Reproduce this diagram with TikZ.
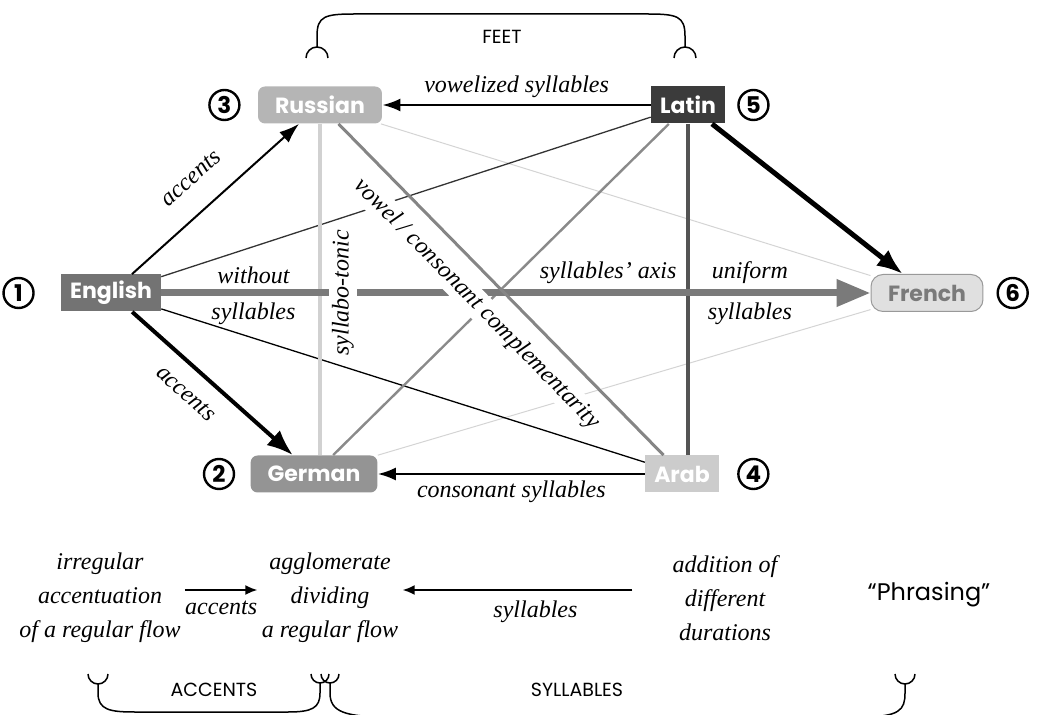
\documentclass[tikz,border=0pt]{standalone}
\usepackage{fontspec}
\setmainfont{Liberation Serif}
\setsansfont{Poppins}
\usetikzlibrary{arrows.meta, positioning}

\begin{document}
\begin{tikzpicture}[x=0.5pt,y=-0.5pt,
    lang/.style={font=\sffamily\bfseries\fontsize{11}{13}\selectfont,text=white,
                 minimum height=18.5pt,inner xsep=4.5pt,inner ysep=0pt},
    round lang/.style={lang,rounded corners=3.5pt,inner xsep=8.5pt},
    num/.style={circle,draw,line width=1.2pt,minimum size=15pt,inner sep=0pt,
                font=\sffamily\bfseries\fontsize{11.5}{13}\selectfont},
    lbl/.style={font=\itshape\fontsize{12}{14}\selectfont,text=black,inner sep=2pt},
    cut lbl/.style={lbl,fill=white,inner sep=1.5pt},
    para/.style={lbl,align=center,font=\itshape\fontsize{12}{17}\selectfont},
    caps/.style={font=\sffamily\fontsize{9.5}{11}\selectfont},
    brace/.style={line width=0.75pt},
    flow/.style={line width=1pt,-{Latex[length=6pt,width=5pt]}}]

  \useasboundingbox (0,0) rectangle (1043,715);

  \node[lang,fill=black!55] (English) at (111,293) {English};
  \node[round lang,fill=black!29] (Russian) at (320,105) {Russian};
  \node[lang,fill=black!77] (Latin) at (688,105) {Latin};
  \node[round lang,rounded corners=6pt,fill=black!12,draw=black!40,line width=0.5pt,
        text=black!52] (French) at (927,293) {French};
  \node[round lang,fill=black!42] (German) at (314,474) {German};
  \node[lang,fill=black!20] (Arab) at (682,474) {Arab};

  \node[num,left=13pt of English] (one) {1};
  \node[num,left=7.5pt of German] (two) {2};
  \node[num,left=8.5pt of Russian] (three) {3};
  \node[num,right=9pt of Arab] (four) {4};
  \node[num,right=6pt of Latin] (five) {5};
  \node[num,right=6.5pt of French] (six) {6};

  % plain links
  \draw[black!17,line width=0.5pt] (Russian) -- (French);
  \draw[black!17,line width=0.5pt] (German) -- (French);
  \draw[black!80,line width=0.65pt] (English) -- (Latin);
  \draw[line width=0.65pt] (English) -- (Arab);
  \draw[black!46,line width=1.2pt] (Latin) -- (German);
  \draw[black!67,line width=2pt] (Latin.south) -- (Latin.south |- Arab.north);
  \draw[black!18,line width=2pt] (Russian.south) -- (Russian.south |- German.north);

  \draw[black!52,line width=3.5pt,-{Triangle[length=17pt,width=13pt]}] (English) --
    node[lbl,above=1pt,pos=.13] (without) {without}
    node[lbl,below=1pt,pos=.13] (syl1) {syllables}
    node[lbl,above=1pt,pos=.63] (axis) {syllables’ axis}
    node[lbl,above=1pt,pos=.83] (uniform) {uniform}
    node[lbl,below=1pt,pos=.83] (syl2) {syllables} (French);

  \draw[line width=1pt,-{Latex[length=10pt,width=7pt]}] (English) --
    node[lbl,sloped,above=10pt,pos=.48] (acc1) {accents} (Russian);
  \draw[line width=2pt,-{Latex[length=13pt,width=10pt]}] (English) --
    node[lbl,sloped,below=6pt,pos=.44] (acc2) {accents} (German);
  \draw[line width=1.2pt,-{Latex[length=9pt,width=6.5pt]}] (Latin) --
    node[lbl,above=1pt] (vowel) {vowelized syllables} (Russian);
  \draw[line width=1.2pt,-{Latex[length=9pt,width=6.5pt]}] (Arab) --
    node[lbl,below=1pt] (cons) {consonant syllables} (German);
  \draw[line width=2.5pt,-{Latex[length=13pt,width=10pt]}] (Latin) -- (French);

  \node[cut lbl,rotate=90] (sylton) at (343,293) {syllabo-tonic};
  \draw[black!48,line width=1.5pt] (Russian) --
    node[cut lbl,sloped,below=6pt,pos=.486] (compl) {vowel / consonant complementarity} (Arab);

  % braces
  \draw[brace] (317,47) -- (317,36) .. controls (317,16) and (325,14) .. (355,14) -- (647,14)
    .. controls (677,14) and (685,16) .. (685,36) -- (685,47);
  \draw[brace] (306,58) arc[start angle=180,end angle=360,radius=11];
  \draw[brace] (674,58) arc[start angle=180,end angle=360,radius=11];
  \node[caps] (feet) at (502,37) {FEET};

  \draw[brace] (98,684) -- (98,693) .. controls (98,710) and (110,712) .. (135,712) -- (288,712)
    .. controls (312,712) and (320,708) .. (320,693) -- (320,683);
  \draw[brace] (330,683) -- (330,693) .. controls (330,712) and (345,717) .. (390,717) -- (860,717)
    .. controls (900,717) and (905,710) .. (905,693) -- (905,684);
  \draw[brace] (88,674) arc[start angle=180,end angle=0,radius=10];
  \draw[brace] (311,674) arc[start angle=180,end angle=0,radius=9];
  \draw[brace] (321,674) arc[start angle=180,end angle=0,radius=9];
  \draw[brace] (895,674) arc[start angle=180,end angle=0,radius=10];
  \node[caps] (accents) at (214,690) {ACCENTS};
  \node[caps] (syllables) at (577,690) {SYLLABLES};

  % bottom row
  \node[para] (irr) at (100,598) {irregular\\accentuation\\of a regular flow};
  \node[para] (aggl) at (330,598) {agglomerate\\dividing\\a regular flow};
  \node[para] (addit) at (725,598) {addition of\\different\\durations};
  \node[font=\sffamily\fontsize{12}{14}\selectfont] (phrase) at (929,595) {“Phrasing”};
  \draw[flow] ([yshift=4pt]irr.east) -- node[lbl,below=3pt] (acc3) {accents} ([yshift=4pt]aggl.west);
  \draw[flow,shorten <=18pt] ([yshift=4pt]addit.west) --
    node[lbl,below=3pt] (syl3) {syllables} ([yshift=4pt]aggl.east);

\end{tikzpicture}
\end{document}
